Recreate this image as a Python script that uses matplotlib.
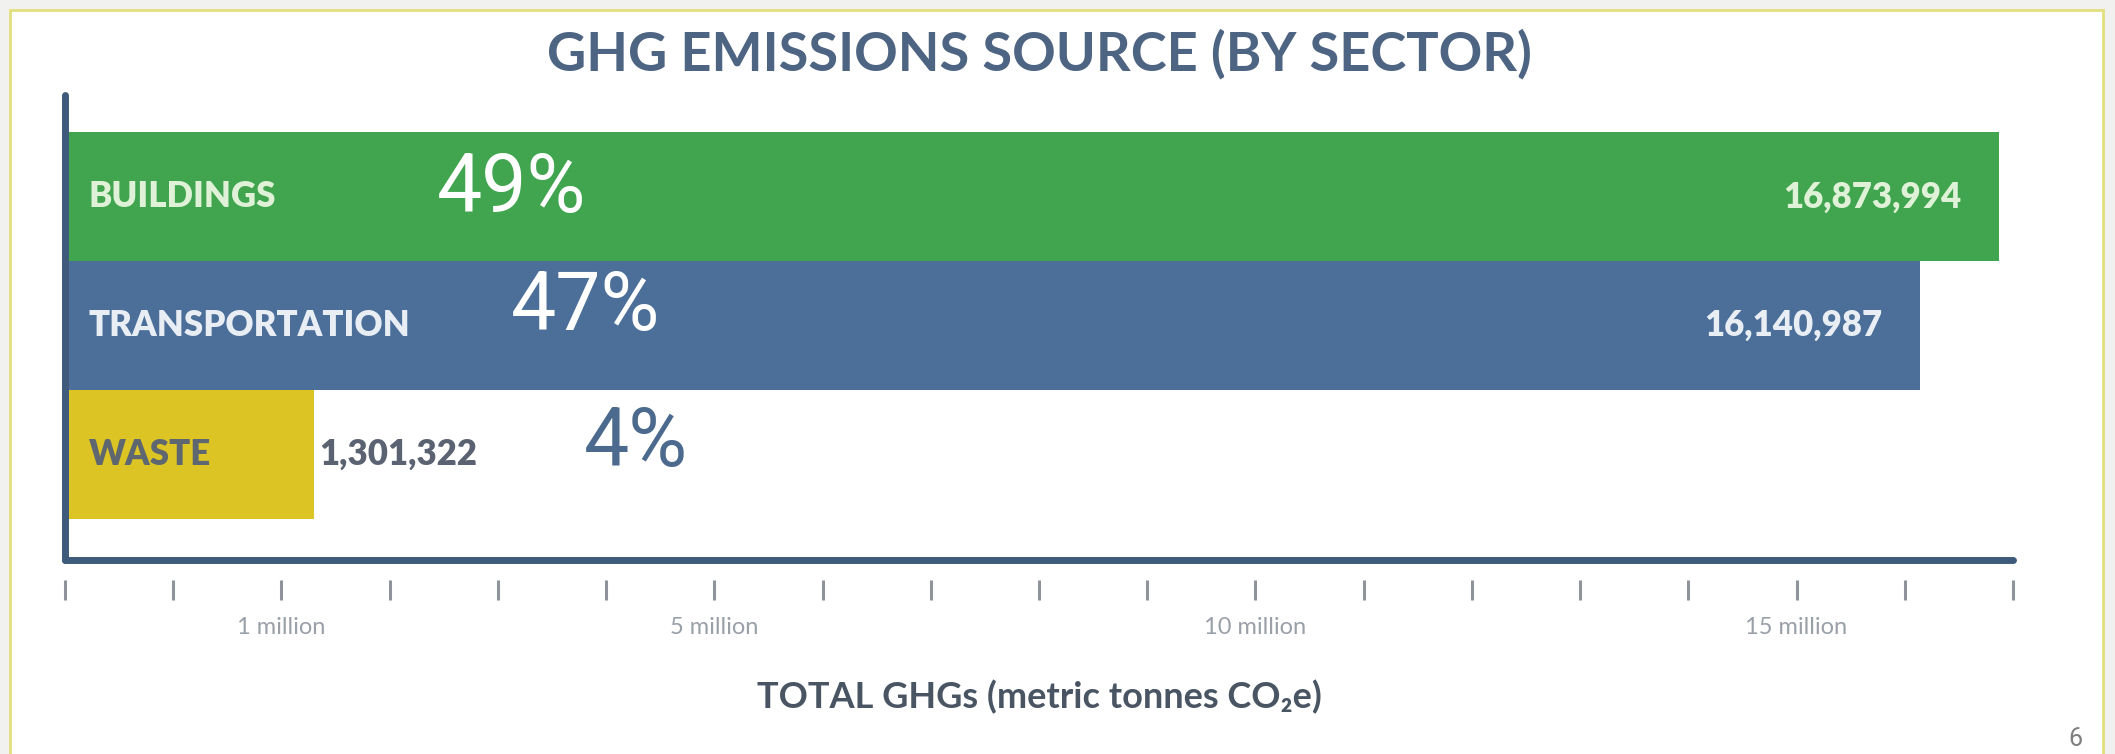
import numpy as np
import matplotlib
matplotlib.use("Agg")
import matplotlib.pyplot as plt
from matplotlib.patches import Rectangle

# data
sectors = ["BUILDINGS", "TRANSPORTATION", "WASTE"]
emissions = [16873994, 16140987, 1301322]
shares = ["49%", "47%", "4%"]
bar_colors = ["#40a54e", "#4b6f99", "#dcc424"]
name_colors = ["#dff2d8", "#e9eef5", "#5e6670"]
share_colors = ["white", "white", "#4b6a8e"]

# the original axis starts one tick left of zero (ticks every 1 million)
tick_millions = list(range(-1, 18))
tick_names = {1: "1 million", 5: "5 million", 10: "10 million", 15: "15 million"}

# hand placed percentage labels (x in millions, y in bar units)
share_x = [3.13, 3.81, 4.28]
share_y = [-0.05, 0.86, 1.92]

W, H = 2115, 754
fig = plt.figure(figsize=(W / 100, H / 100), dpi=100)
fig.patch.set_facecolor("#f1f1ef")

# slide frame
fig.patches.append(Rectangle((10 / W, -0.05), (2103 - 10) / W, 1.05 - 10 / H,
                             transform=fig.transFigure, facecolor="white",
                             edgecolor="#e2e07c", linewidth=2, zorder=-10))

ax = fig.add_axes([65 / W, 1 - 560 / H, (2013 - 65) / W, (560 - 95) / H])
ax.set_facecolor("none")

axis_start = tick_millions[0] * 1e6
ypos = np.arange(len(sectors))
ax.barh(ypos, [v - axis_start for v in emissions], left=axis_start,
        height=1.0, color=bar_colors, zorder=1)

ax.set_xlim(axis_start, tick_millions[-1] * 1e6)
ax.set_ylim(2.82, -0.79)
ax.set_xticks([])
ax.set_yticks([])
for side in ["top", "right"]:
    ax.spines[side].set_visible(False)
for side in ["left", "bottom"]:
    ax.spines[side].set_linewidth(5)
    ax.spines[side].set_color("#3e5b7b")
    ax.spines[side].set_capstyle("round")
    ax.spines[side].set_zorder(3)

# sector names inside the bars
for i, name in enumerate(sectors):
    ax.annotate(name, (axis_start, i), xytext=(17, 0), textcoords="offset points",
                ha="left", va="center", fontsize=25, fontweight="heavy",
                family="Lato", color=name_colors[i], zorder=4)

# value labels: inside at the end for long bars, just outside for short ones
for i, v in enumerate(emissions):
    txt = f"{v:,}"
    if v > 5e6:
        ax.annotate(txt, (v, i), xytext=(-27, 0), textcoords="offset points",
                    ha="right", va="center", fontsize=25, fontweight="heavy",
                    family="Lato", color=name_colors[i], zorder=4)
    else:
        ax.annotate(txt, (v, i), xytext=(4, 0), textcoords="offset points",
                    ha="left", va="center", fontsize=25, fontweight="heavy",
                    family="Lato", color="#5b6272", zorder=4)

for i, s in enumerate(shares):
    ax.text(share_x[i] * 1e6, share_y[i], s, ha="center", va="center",
            fontsize=58, family="Roboto", color=share_colors[i], zorder=4)

# separate tick row below the axis line
sec = ax.secondary_xaxis(-0.0645)
for sp in sec.spines.values():
    sp.set_visible(False)
sec.set_xticks([m * 1e6 for m in tick_millions],
               labels=[tick_names.get(m, "") for m in tick_millions])
sec.tick_params(direction="inout", length=14.4, width=2.2, color="#8f949a",
                labelsize=17, labelcolor="#9aa0a8", pad=12)
for lab in sec.get_xticklabels():
    lab.set_family("Lato")

fig.text(1039 / W, 1 - 54 / H, "GHG EMISSIONS SOURCE (BY SECTOR)", ha="center",
         va="center", fontsize=39, fontweight="bold", family="Lato", color="#4d6482")
fig.text(1039 / W, 1 - 697 / H, "TOTAL GHGs (metric tonnes CO₂e)", ha="center",
         va="center", fontsize=26, fontweight="bold", family=["Lato", "DejaVu Sans"],
         color="#4a5563")
fig.text(2075 / W, 1 - 739 / H, "6", ha="center", va="center", fontsize=18,
         family="Roboto", color="#7f7f7f")

fig.savefig("out.png", dpi=100, facecolor=fig.get_facecolor())
